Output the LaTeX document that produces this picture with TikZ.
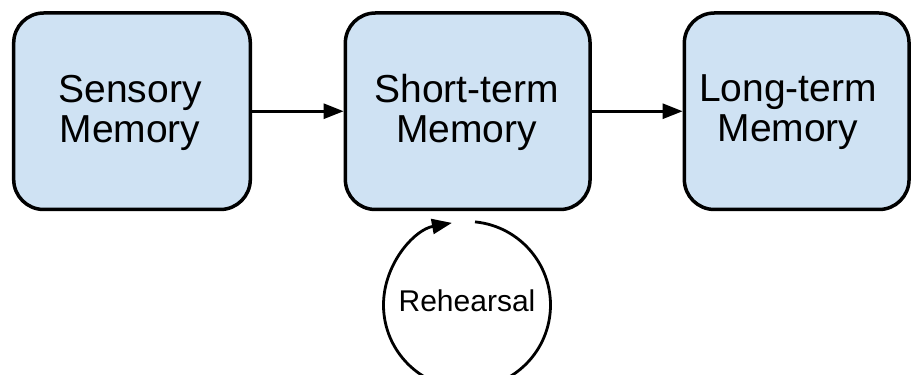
\documentclass[tikz,border=0pt]{standalone}
\usepackage{fontspec}
\setmainfont{Liberation Sans}
\usetikzlibrary{arrows.meta}
\definecolor{boxfill}{HTML}{CFE2F3}
\begin{document}
\begin{tikzpicture}[x=1pt,y=1pt,
  membox/.style={draw=black, line width=3.5pt, fill=boxfill, rounded corners=30pt, inner sep=0pt},
  memtext/.style={font=\fontsize{39}{40}\selectfont, align=center, inner sep=0pt},
  conn/.style={line width=2.8pt, -{Triangle[length=20pt,width=15pt]}}]
\useasboundingbox (0,0) rectangle (911,375);
\node[membox, minimum width=236.6pt, minimum height=196.5pt] (sm) at (132,263.75) {};
\node[membox, minimum width=244.7pt, minimum height=196.5pt] (stm) at (467.7,263.75) {};
\node[membox, minimum width=224.7pt, minimum height=196.5pt] (ltm) at (796.7,263.75) {};
\node[memtext] (smt) at (130,262.5) {Sensory\\Memory};
\node[memtext] (stmt) at (466.5,262.5) {Short-term\\Memory};
\node[memtext] (ltmt) at (788,262.5) {Long-term\\Memory};
\draw[conn] (sm.east) -- (stm.west);
\draw[conn] (stm.east) -- (ltm.west);
\coordinate (rc) at (467,70);
\node[font=\fontsize{30}{32}\selectfont, inner sep=0pt] (rh) at (467,74) {Rehearsal};
\draw[conn] ([shift={(84.5:83.5)}]rc) arc[start angle=84.5, end angle=-259.6, radius=83.5];
\end{tikzpicture}
\end{document}
